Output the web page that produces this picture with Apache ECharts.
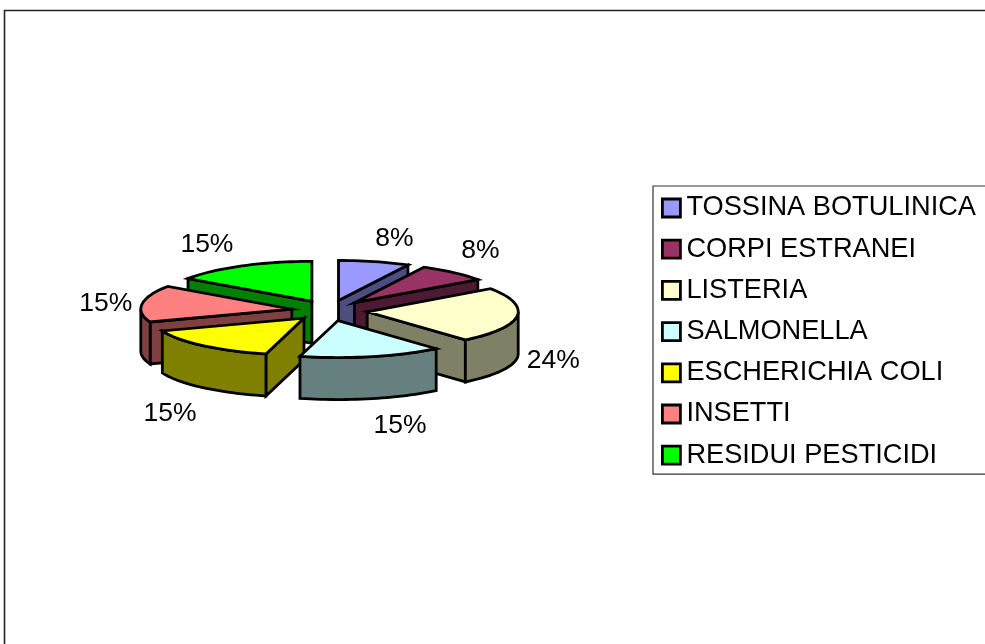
<!DOCTYPE html>
<html>
<head>
<meta charset="utf-8">
<style type="text/css">
html,body{margin:0;padding:0;background:#fff;}
#main{width:985px;height:644px;}
</style>
<script src="https://cdn.jsdelivr.net/npm/echarts@6/dist/echarts.min.js"></script>
</head>
<body>
<div id="main"></div>
<script type="text/javascript">
var categories = ['TOSSINA BOTULINICA','CORPI ESTRANEI','LISTERIA','SALMONELLA','ESCHERICHIA COLI','INSETTI','RESIDUI PESTICIDI'];
var values = [7.6,7.6,23.5,15.3,15.3,15.3,15.3];
var topColors = ['#9999FF','#993366','#FFFFCC','#CCFFFF','#FFFF00','#FF8080','#00FF00'];
var sideColors = ['#4D4D80','#4D1A33','#808066','#668080','#808000','#804040','#008000'];
// back to front
var drawOrder = [0,6,1,5,2,4,3];
// label centre, relative to the tip of each slice
var labelOffsets = [[56,-62],[126,-52],[186,49],[62,105],[-134,96],[-186,-6],[-105,-57]];

// pie projection, the front half is a little flatter than the back
var cx = 329.5, cy = 310.5, rx = 151, ryBack = 40, ryFront = 37, depth = 42, explodeX = 38, explodeY = 10.3;
var total = values.reduce(function(a,b){return a+b;},0);

var starts = [], sum = 0;
for(var k=0;k<values.length;k++){
	starts.push(sum/total*360);
	sum += values[k];
}

function rad(d){ return d*Math.PI/180; }

function arcPoints(tip,a0,a1,dy){
	var pts = [], n = Math.max(2,Math.ceil(Math.abs(a1-a0)/2));
	for(var i=0;i<=n;i++){
		var a = rad(a0+(a1-a0)*i/n), c = Math.cos(a);
		pts.push([tip[0]+rx*Math.sin(a),tip[1]-(c>0?ryBack:ryFront)*c+dy]);
	}
	return pts;
}

function sideWall(tip,a,color){
	var p = arcPoints(tip,a,a,0)[0];
	return {type:'polygon',shape:{points:[tip,p,[p[0],p[1]+depth],[tip[0],tip[1]+depth]]},style:faceStyle(color)};
}

function faceStyle(color){
	return {fill:color,stroke:'#000',lineWidth:2.8,lineJoin:'miter'};
}

function makeRender(idx){
	return function(params,api){
		var v = api.value(0);
		var a0 = starts[idx], a1 = a0+v/total*360, mid = (a0+a1)/2;
		var tip = [cx+explodeX*Math.sin(rad(mid)),cy-explodeY*Math.cos(rad(mid))];
		var children = [];
		// radial walls that face the viewer
		if(Math.sin(rad(a0))<0) children.push(sideWall(tip,a0,sideColors[idx]));
		if(Math.sin(rad(a1))>0) children.push(sideWall(tip,a1,sideColors[idx]));
		// outer wall, front half only
		var w0 = Math.max(a0,90), w1 = Math.min(a1,270);
		if(w1>w0){
			var up = arcPoints(tip,w0,w1,0), down = arcPoints(tip,w1,w0,depth);
			children.push({type:'polygon',shape:{points:up.concat(down)},style:faceStyle(sideColors[idx])});
		}
		// top face
		children.push({type:'polygon',shape:{points:[tip].concat(arcPoints(tip,a0,a1,0))},style:faceStyle(topColors[idx])});
		children.push({
			type:'text',
			style:{
				x:tip[0]+labelOffsets[idx][0],
				y:tip[1]+labelOffsets[idx][1],
				text:Math.round(v/total*100)+'%',
				font:'26.5px "Liberation Sans"',
				fill:'#000',
				align:'center',
				verticalAlign:'middle'
			}
		});
		return {type:'group',children:children};
	};
}

var seriesList = [];
for(var s=0;s<categories.length;s++){
	seriesList.push({
		name:categories[s],
		type:'custom',
		coordinateSystem:'none',
		z:2+drawOrder.indexOf(s),
		itemStyle:{color:topColors[s]},
		renderItem:makeRender(s),
		data:[[values[s]]]
	});
}

var myChart = echarts.init(document.getElementById('main'));
myChart.setOption({
	animation:false,
	backgroundColor:'#fff',
	graphic:[{
		type:'rect',
		silent:true,
		shape:{x:4.5,y:10.5,width:1100,height:800},
		style:{fill:'none',stroke:'#222',lineWidth:1.6}
	}],
	legend:{
		orient:'vertical',
		left:653,
		top:186,
		padding:[7,14,4,8],
		itemGap:11.2,
		itemWidth:18,
		itemHeight:18,
		icon:'rect',
		selectedMode:false,
		backgroundColor:'#fff',
		borderColor:'#333',
		borderWidth:1.2,
		itemStyle:{borderColor:'#000',borderWidth:2.8},
		textStyle:{fontFamily:'Liberation Sans',fontSize:27.2,color:'#000',lineHeight:30,padding:[0,0,0,1]},
		data:categories
	},
	series:seriesList
});
</script>
</body>
</html>
